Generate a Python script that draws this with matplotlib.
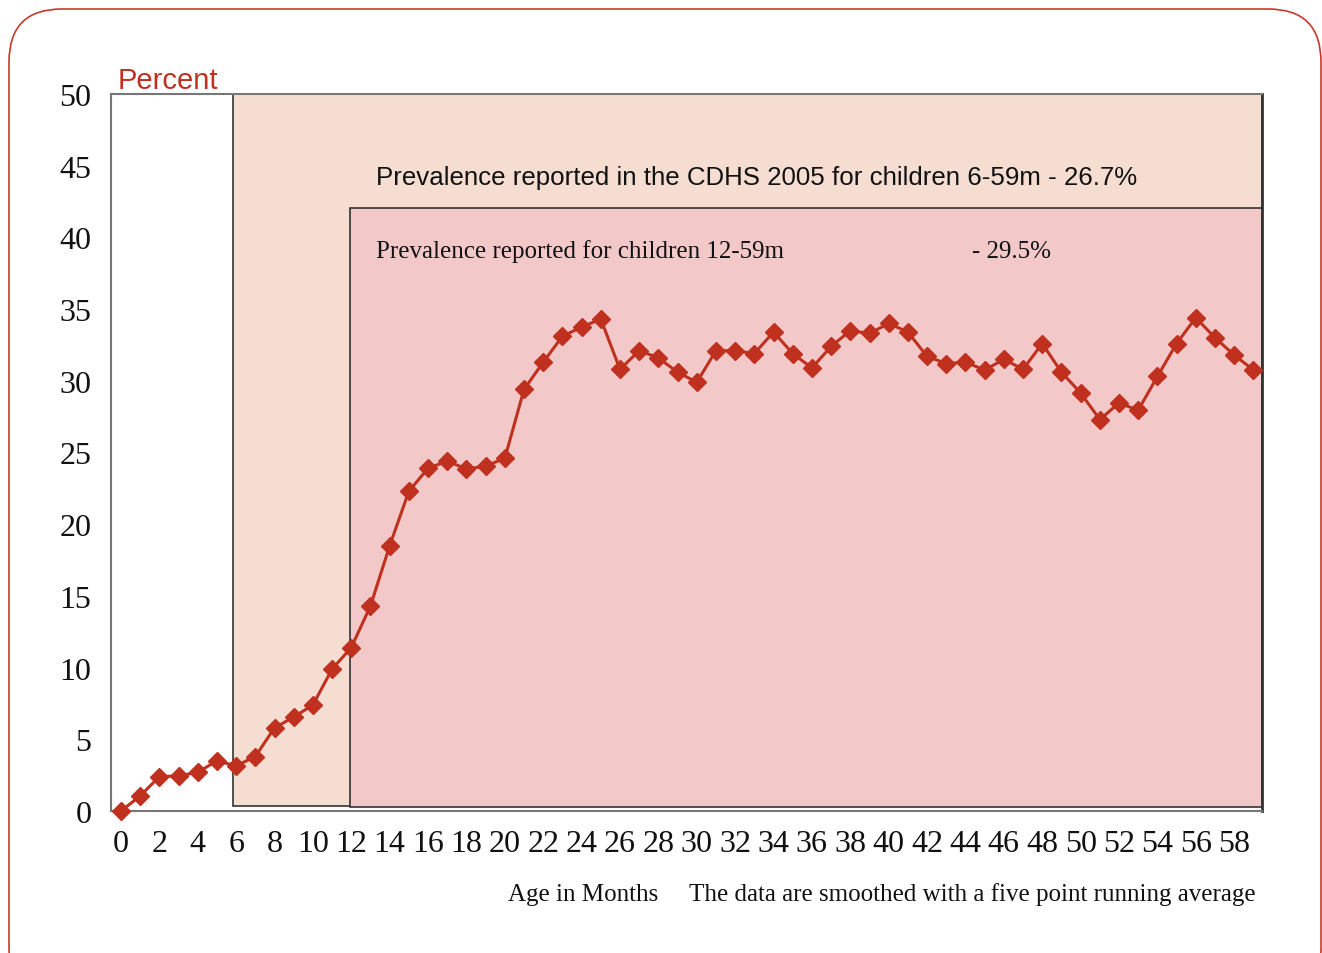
import matplotlib
matplotlib.use("Agg")
import matplotlib.pyplot as plt
from matplotlib.patches import Rectangle, FancyBboxPatch

months = list(range(0, 60))
prevalence = [0.0, 1.05, 2.4, 2.45, 2.7, 3.5, 3.15, 3.8, 5.8, 6.55,
              7.4, 9.9, 11.4, 14.3, 18.5, 22.3, 23.9, 24.4, 23.85, 24.05,
              24.6, 29.4, 31.3, 33.1, 33.75, 34.3, 30.8, 32.1, 31.6, 30.6,
              29.9, 32.1, 32.1, 31.9, 33.4, 31.9, 30.9, 32.4, 33.5, 33.3,
              34.0, 33.4, 31.7, 31.2, 31.3, 30.75, 31.5, 30.8, 32.6, 30.6,
              29.15, 27.3, 28.45, 27.95, 30.3, 32.6, 34.4, 33.0, 31.8, 30.75]
x_ticks = list(range(0, 60, 2))
y_ticks = list(range(0, 55, 5))

# shaded reference bands: (start month, top value)
band_6_59 = (5.85, 50.0)
band_12_59 = (11.93, 42.05)

fig = plt.figure(figsize=(13.22, 9.54), dpi=100)
fig.patch.set_facecolor("white")

# rounded red frame
frame = FancyBboxPatch((9/1322, -0.05), (1321-9)/1322, 944/954 + 0.05,
                       boxstyle="round,pad=0,rounding_size=0.04",
                       transform=fig.transFigure, facecolor="none",
                       edgecolor="#C8392B", linewidth=1.2, mutation_aspect=1322/954)
fig.patches.append(frame)

ax = fig.add_axes([111/1322, (954-812)/954, (1262-111)/1322, (812-95)/954])
ax.set_xlim(-0.52, 59.45)
ax.set_ylim(0, 50)

xr = ax.get_xlim()[1]
ax.add_patch(Rectangle((band_6_59[0], 0.35), xr - band_6_59[0], band_6_59[1] - 0.35,
                       facecolor="#F5DDD2", edgecolor="#333333", linewidth=1.2, zorder=1))
ax.add_patch(Rectangle((band_12_59[0], 0.28), xr - band_12_59[0], band_12_59[1] - 0.28,
                       facecolor="#F2C8C8", edgecolor="#333333", linewidth=1.2, zorder=1.1))

ax.plot(months, prevalence, color="#C0301E", linewidth=2.2, marker="D",
        markersize=8.8, markeredgecolor="#C0301E", markerfacecolor="#C0301E",
        zorder=5, clip_on=False)

for s in ax.spines.values():
    s.set_color("#777777")
    s.set_linewidth(1.5)
ax.spines["right"].set_color("#333333")
ax.spines["right"].set_linewidth(2)

ax.set_xticks(x_ticks)
ax.set_yticks(y_ticks)
ax.tick_params(length=0)
ax.tick_params(axis="x", pad=13)
ax.tick_params(axis="y", pad=14)
for lab in ax.get_xticklabels() + ax.get_yticklabels():
    lab.set_fontfamily("Liberation Serif")
    lab.set_fontsize(23)
    lab.set_color("#111111")

fig.text(118/1322, 1 - 81/954, "Percent", color="#C0301E", fontsize=21,
         family="Liberation Sans", va="center", ha="left")
fig.text(376/1322, 1 - 178/954,
         "Prevalence reported in the CDHS 2005 for children 6-59m - 26.7%",
         color="#111111", fontsize=18.6, family="Liberation Sans", va="center", ha="left")
fig.text(376/1322, 1 - 252/954, "Prevalence reported for children 12-59m",
         color="#111111", fontsize=18, family="Liberation Serif", va="center", ha="left")
fig.text(972/1322, 1 - 252/954, "- 29.5%",
         color="#111111", fontsize=18, family="Liberation Serif", va="center", ha="left")
fig.text(1256/1322, 1 - 895/954,
         "Age in Months     The data are smoothed with a five point running average",
         color="#111111", fontsize=18, family="Liberation Serif", va="center", ha="right")

fig.savefig("out.png", dpi=100)
